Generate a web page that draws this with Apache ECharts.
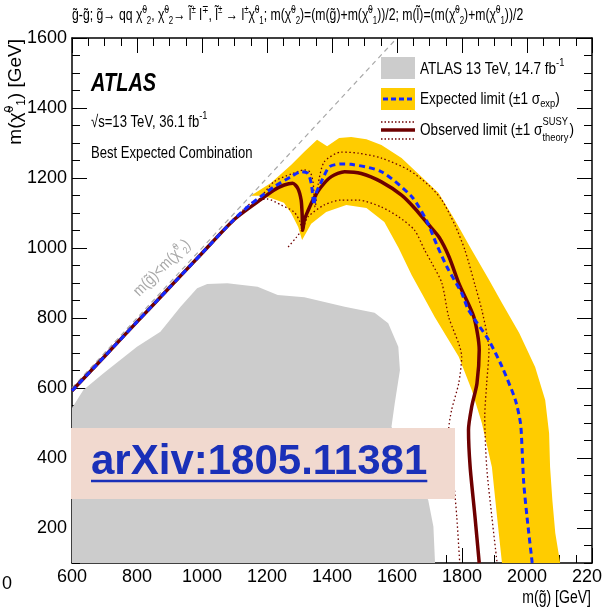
<!DOCTYPE html>
<html><head><meta charset="utf-8">
<script src="https://cdn.jsdelivr.net/npm/echarts@6/dist/echarts.min.js"></script>
<style>html,body{margin:0;padding:0;background:#fff}#c{width:602px;height:613px}</style>
</head><body><div id="c"></div>
<script>
// ---- data (GeV) ----
const xLabels = [600, 800, 1000, 1200, 1400, 1600, 1800, 2000, 2200];
const yMajorTicks = [200, 400, 600, 800, 1000, 1200, 1400, 1600];
const kinematicLimit = [[600, 600], [1600, 1600]];
const previousExcluded = [[600,100],[600,543],[635,594],[697,642],[800,718],[872,761],[934,832],[985,885],[1016,897],[1078,899],[1171,889],[1233,866],[1315,859],[1439,832],[1531,815],[1573,785],[1604,718],[1609,651],[1593,556],[1583,489],[1629,394],[1696,280],[1712,204],[1717,100]];
const expectedBand = [[1150,1149],[1212,1186],[1274,1237],[1314,1274],[1354,1309],[1385,1291],[1422,1314],[1459,1317],[1506,1311],[1552,1294],[1614,1257],[1676,1203],[1728,1157],[1778,1080],[1830,994],[1883,909],[1923,843],[1976,757],[2025,660],[2056,566],[2068,471],[2071,374],[2078,280],[2087,186],[2102,100],[1923,100],[1908,231],[1892,374],[1861,500],[1830,594],[1790,689],[1716,803],[1676,871],[1645,923],[1605,1000],[1561,1074],[1506,1114],[1444,1123],[1382,1103],[1336,1069],[1308,1023],[1296,1060],[1274,1100],[1252,1129],[1212,1143],[1175,1149]];
const expectedLimit = [[600,592],[700,690],[800,789],[900,887],[1000,985],[1100,1083],[1150,1125],[1181,1147],[1222,1175],[1274,1204],[1305,1218],[1326,1213],[1336,1185],[1341,1147],[1344,1123],[1351,1156],[1367,1189],[1392,1232],[1428,1240],[1459,1239],[1552,1218],[1645,1147],[1690,1080],[1722,1010],[1753,947],[1799,871],[1820,823],[1882,737],[1923,661],[1964,566],[1980,499],[1985,423],[1990,328],[2000,232],[2016,100]];
const observedLimit = [[600,592],[700,690],[800,789],[900,887],[1000,985],[1100,1082],[1171,1132],[1222,1166],[1253,1180],[1279,1185],[1295,1170],[1305,1137],[1308,1099],[1310,1051],[1315,1080],[1325,1104],[1341,1137],[1367,1175],[1398,1204],[1439,1218],[1490,1213],[1552,1189],[1614,1151],[1655,1113],[1696,1068],[1730,1030],[1760,975],[1792,895],[1836,804],[1853,709],[1846,613],[1830,547],[1820,480],[1825,375],[1840,232],[1853,100]];
const observedPlus1 = [[600,592],[700,690],[800,789],[900,887],[1000,985],[1100,1082],[1171,1135],[1221,1189],[1274,1211],[1314,1223],[1333,1217],[1342,1186],[1345,1146],[1348,1117],[1357,1180],[1376,1246],[1428,1274],[1481,1271],[1552,1257],[1636,1223],[1697,1180],[1738,1137],[1778,1066],[1809,994],[1840,894],[1861,823],[1876,757],[1883,709],[1876,614],[1870,517],[1876,374],[1892,231],[1908,100]];
const observedMinus1a = [[600,592],[700,690],[800,789],[900,887],[1000,985],[1100,1082],[1150,1128],[1200,1140],[1243,1123],[1283,1103],[1302,1074],[1308,1046]];
const observedMinus1b = [[1265,1003],[1289,1029],[1311,1057],[1326,1089],[1376,1123],[1428,1137],[1481,1137],[1552,1117],[1605,1089],[1654,1051],[1685,994],[1707,957],[1738,900],[1759,803],[1799,689],[1790,614],[1768,537],[1759,480],[1775,329],[1784,231],[1793,100]];

// ---- styling ----
const FONT = "'Liberation Sans', Arial, Helvetica, sans-serif";
const DARKRED = '#6e0000', BLUE = '#1428ff', YELLOW = '#ffcc00', GRAY = '#cccccc';
const SX = 0.78; // horizontal condensation of the reference's text
const mctx = document.createElement('canvas').getContext('2d');
function tw(t, size, pre) { mctx.font = (pre || '') + ' ' + size + 'px ' + FONT; return mctx.measureText(t).width; }

const chart = echarts.init(document.getElementById('c'), null, {renderer: 'canvas'});

function polySeries(points, color, z) {
  return {
    type: 'custom', xAxisIndex: 0, yAxisIndex: 0, z: z, clip: true, silent: true,
    data: points,
    renderItem: function (params, api) {
      if (params.dataIndex !== 0) return null;
      return {type: 'polygon', shape: {points: points.map(p => api.coord(p))}, style: {fill: color}};
    }
  };
}
function lineSeries(data, color, width, type, z) {
  return {type: 'line', data: data, xAxisIndex: 0, yAxisIndex: 0, showSymbol: false, symbol: 'none',
    smooth: 0.25, z: z, silent: true, animation: false,
    lineStyle: {color: color, width: width, type: type, cap: 'butt'}};
}

const axisCommon = {
  type: 'value', splitLine: {show: false},
  axisLine: {show: true, lineStyle: {color: '#000', width: 1.5}},
};
const xAxes = [
  Object.assign({}, axisCommon, {position: 'bottom', min: 600, max: 2200, interval: 200,
    axisTick: {inside: true, length: 15, lineStyle: {color: '#000', width: 1}},
    minorTick: {show: true, splitNumber: 4, length: 8, lineStyle: {color: '#000', width: 1}},
    axisLabel: {color: '#000', fontSize: 18, fontFamily: FONT, margin: 5, hideOverlap: false,
      formatter: v => xLabels.indexOf(v) >= 0 ? String(v) : ''}}),
  Object.assign({}, axisCommon, {position: 'top', min: 600, max: 2200, interval: 200,
    axisTick: {inside: true, length: 15, lineStyle: {color: '#000', width: 1}},
    minorTick: {show: true, splitNumber: 4, length: 8, lineStyle: {color: '#000', width: 1}},
    axisLabel: {show: false}})
];
function yPair(pos) {
  return [
    Object.assign({}, axisCommon, {position: pos, min: 100, max: 1600, interval: 50,
      axisTick: {inside: true, length: 8, lineStyle: {color: '#000', width: 1}},
      axisLabel: pos === 'left' ? {color: '#000', fontSize: 18, fontFamily: FONT, margin: 5,
        formatter: v => yMajorTicks.indexOf(v) >= 0 ? String(v) : ''} : {show: false}}),
    Object.assign({}, axisCommon, {position: pos, min: 100, max: 1600,
      axisLine: {show: false},
      axisTick: {inside: true, length: 15, customValues: yMajorTicks, lineStyle: {color: '#000', width: 1}},
      axisLabel: {show: false}})
  ];
}
const yAxes = yPair('left').concat(yPair('right'));

// ---- text / legend graphics ----
const g = [];
const richSS = (fs, lh, fill) => ({
  s: {fontSize: fs, fontFamily: FONT, verticalAlign: 'top', lineHeight: lh, fill: fill},
  b: {fontSize: fs, fontFamily: FONT, verticalAlign: 'bottom', lineHeight: lh, fill: fill}
});
function txt(x, y, s, size, o) {
  o = o || {};
  g.push({type: 'text', z: 100, x: x, y: y, scaleX: o.sx === undefined ? SX : o.sx, rotation: o.rot || 0,
    style: {x: 0, y: 0, text: s, fill: o.fill || '#000', font: (o.pre || '') + ' ' + size + 'px ' + FONT,
      verticalAlign: 'middle', align: o.align || 'left', rich: o.rich}});
}
// title
txt(72, 15, 'g̃-g̃; g̃→ qq χ̃{s|0}{b|2}, χ̃{s|0}{b|2}→ l̃{s|±} l{s|∓}, l̃{s|±} → l{s|±}χ̃{s|0}{b|1}; m(χ̃{s|0}{b|2})=(m(g̃)+m(χ̃{s|0}{b|1}))/2; m(l̃)=(m(χ̃{s|0}{b|2})+m(χ̃{s|0}{b|1}))/2',
  17, {sx: 0.72, rich: richSS(11, 22)});
// y axis title
txt(16, 39, 'm(χ̃{s|0}{b|1}) [GeV]', 19, {sx: 1, align: 'right', rot: Math.PI / 2, rich: richSS(12, 24)});
// x axis title
txt(591, 598, 'm(g̃) [GeV]', 18, {align: 'right'});
// stray "0"
txt(2, 584, '0', 18, {sx: 1});
// ATLAS label
txt(91, 84, 'ATLAS', 25, {pre: 'italic bold', sx: 0.8});
let w = tw('√s=13 TeV, 36.1 fb', 17) * 0.77;
txt(91, 122, '√s=13 TeV, 36.1 fb', 17, {sx: 0.77});
txt(91 + w, 116, '-1', 11, {sx: 0.85});
txt(91, 153, 'Best Expected Combination', 17, {sx: 0.77});
// diagonal label
txt(162, 268, 'm(g̃)<m(χ̃{s|0}{b|2})', 16, {sx: 0.85, align: 'center', rot: Math.PI / 4, fill: '#a8a8a8', rich: richSS(10, 20, '#a8a8a8')});
// legend symbols
g.push({type: 'rect', z: 100, shape: {x: 381, y: 57, width: 34, height: 22}, style: {fill: GRAY}});
g.push({type: 'rect', z: 100, shape: {x: 381, y: 88, width: 34, height: 22}, style: {fill: YELLOW}});
g.push({type: 'line', z: 101, shape: {x1: 383, y1: 99, x2: 414, y2: 99}, style: {stroke: BLUE, lineWidth: 3, lineDash: [5, 3]}});
g.push({type: 'line', z: 101, shape: {x1: 381, y1: 130, x2: 415, y2: 130}, style: {stroke: DARKRED, lineWidth: 3.5}});
g.push({type: 'line', z: 101, shape: {x1: 381, y1: 122, x2: 415, y2: 122}, style: {stroke: DARKRED, lineWidth: 1.3, lineDash: [1.5, 2]}});
g.push({type: 'line', z: 101, shape: {x1: 381, y1: 139, x2: 415, y2: 139}, style: {stroke: DARKRED, lineWidth: 1.3, lineDash: [1.5, 2]}});
// legend texts
const LX = 420, LS = 17, LSX = 0.8;
w = tw('ATLAS 13 TeV, 14.7 fb', LS) * LSX;
txt(LX, 69, 'ATLAS 13 TeV, 14.7 fb', LS, {sx: LSX});
txt(LX + w, 63, '-1', 11, {sx: 0.85});
w = tw('Expected limit (±1 σ', LS) * LSX;
txt(LX, 99, 'Expected limit (±1 σ', LS, {sx: LSX});
txt(LX + w, 104, 'exp', 11, {sx: 0.85});
txt(LX + w + tw('exp', 11) * 0.85, 99, ')', LS, {sx: LSX});
w = tw('Observed limit (±1 σ', LS) * LSX;
txt(LX, 130, 'Observed limit (±1 σ', LS, {sx: LSX});
txt(LX + w, 122, 'SUSY', 11, {sx: 0.85});
txt(LX + w, 138, 'theory', 11, {sx: 0.85});
txt(LX + w + tw('theory', 11) * 0.85 + 1, 130, ')', LS, {sx: LSX});
// watermark
g.push({type: 'rect', z: 200, shape: {x: 71, y: 428, width: 384, height: 71}, style: {fill: '#f1d9cf'}});
g.push({type: 'text', z: 201, style: {x: 91, y: 462, text: 'arXiv:1805.11381', fill: '#1a30b8',
  font: 'bold 42px ' + FONT, verticalAlign: 'middle', align: 'left'}});
const wm = tw('arXiv:1805.11381', 42, 'bold');
g.push({type: 'line', z: 201, shape: {x1: 91, y1: 481, x2: 91 + wm, y2: 481}, style: {stroke: '#1a30b8', lineWidth: 2.5}});

chart.setOption({
  animation: false,
  backgroundColor: '#fff',
  grid: {left: 72, right: 10, top: 38, bottom: 50, containLabel: false, outerBoundsMode: 'none'},
  xAxis: xAxes,
  yAxis: yAxes,
  series: [
    polySeries(previousExcluded, GRAY, 1),
    polySeries(expectedBand, YELLOW, 2),
    lineSeries(kinematicLimit, '#a8a8a8', 1.2, [5, 4], 3),
    lineSeries(observedMinus1a, DARKRED, 1.3, [1.5, 2.5], 4),
    lineSeries(observedMinus1b, DARKRED, 1.3, [1.5, 2.5], 4),
    lineSeries(observedPlus1, DARKRED, 1.3, [1.5, 2.5], 4),
    lineSeries(observedLimit, DARKRED, 3.5, 'solid', 5),
    lineSeries(expectedLimit, BLUE, 3, [6, 4], 6)
  ],
  graphic: g
});
</script></body></html>
